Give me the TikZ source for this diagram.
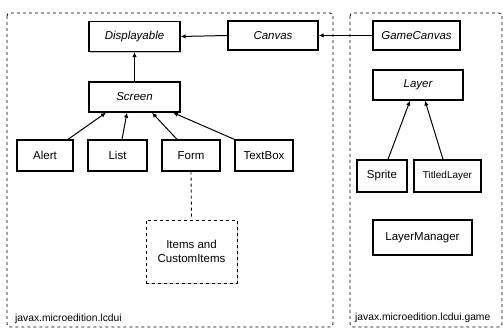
\documentclass[tikz,border=0pt]{standalone}
\usepackage{fontspec}
\setmainfont{Liberation Sans}
\usetikzlibrary{shadows,arrows.meta}
\begin{document}
\begin{tikzpicture}[x=1pt,y=1pt,
  cls/.style={draw=black,line width=1.3pt,fill=white,inner sep=1pt,font=\fontsize{11.5}{13.5}\selectfont,
    drop shadow={shadow xshift=1.2pt,shadow yshift=-1.2pt,fill=black!45}},
  abs/.style={cls,font=\fontsize{11.5}{13.5}\selectfont\itshape},
  pkg/.style={draw=black,dashed,line width=0.8pt,rounded corners=3pt},
  inh/.style={-{Latex[length=5pt,width=4.5pt]},line width=1pt},
  lbl/.style={font=\fontsize{10.3}{12}\selectfont,anchor=base west,inner sep=0pt}]
\useasboundingbox (0,0) rectangle (503,329);
% packages
\draw[pkg] (7,316) rectangle (333,2);
\draw[pkg] (350,316) rectangle (502,2);
\node[lbl] (l1) at (15,7) {javax.microedition.lcdui};
\node[lbl] (l2) at (355,8) {javax.microedition.lcdui.game};
% classes
\node[abs,minimum width=91pt,minimum height=30pt] (disp) at (134.5,292.5) {Displayable};
\node[abs,minimum width=90pt,minimum height=29pt] (canvas) at (273,293.5) {Canvas};
\node[abs,minimum width=87pt,minimum height=29pt] (gcanvas) at (416.5,293.5) {GameCanvas};
\node[abs,minimum width=91pt,minimum height=30pt] (screen) at (134.5,232) {Screen};
\node[cls,minimum width=56pt,minimum height=31pt] (alert) at (45,173.5) {Alert};
\node[cls,minimum width=59pt,minimum height=31pt] (list) at (117.5,173.5) {List};
\node[cls,minimum width=58pt,minimum height=31pt] (form) at (191,173.5) {Form};
\node[cls,minimum width=58pt,minimum height=31pt] (textbox) at (264,173.5) {TextBox};
\node[cls,dashed,line width=0.9pt,minimum width=91pt,minimum height=63pt,align=center] (items) at (191.5,77.5) {Items and\\CustomItems};
\node[abs,minimum width=90pt,minimum height=30pt] (layer) at (418,244) {Layer};
\node[cls,minimum width=50pt,minimum height=32pt] (sprite) at (382,153) {Sprite};
\node[cls,minimum width=67pt,minimum height=32pt,font=\fontsize{10}{12}\selectfont] (tlayer) at (447.5,153) {TitledLayer};
\node[cls,minimum width=99pt,minimum height=35pt] (lmgr) at (422.5,91.5) {LayerManager};
% connectors
\draw[inh] (canvas.west) -- (disp.east);
\draw[inh] (gcanvas.west) -- (canvas.east);
\draw[inh] (screen.north) -- (disp.south);
\draw[inh] ([xshift=23pt]alert.north) -- ([xshift=-28.5pt]screen.south);
\draw[inh] ([xshift=4.5pt]list.north) -- ([xshift=-7.5pt]screen.south);
\draw[inh] ([xshift=-14pt]form.north) -- ([xshift=17.5pt]screen.south);
\draw[inh] (textbox.north west) -- ([xshift=38.5pt]screen.south);
\draw[dashed,line width=0.9pt] (form.south) -- (items.north);
\draw[inh] ([xshift=6pt]sprite.north) -- ([xshift=-8pt]layer.south);
\draw[inh] ([xshift=-4.5pt]tlayer.north) -- ([xshift=7pt]layer.south);
\end{tikzpicture}
\end{document}
